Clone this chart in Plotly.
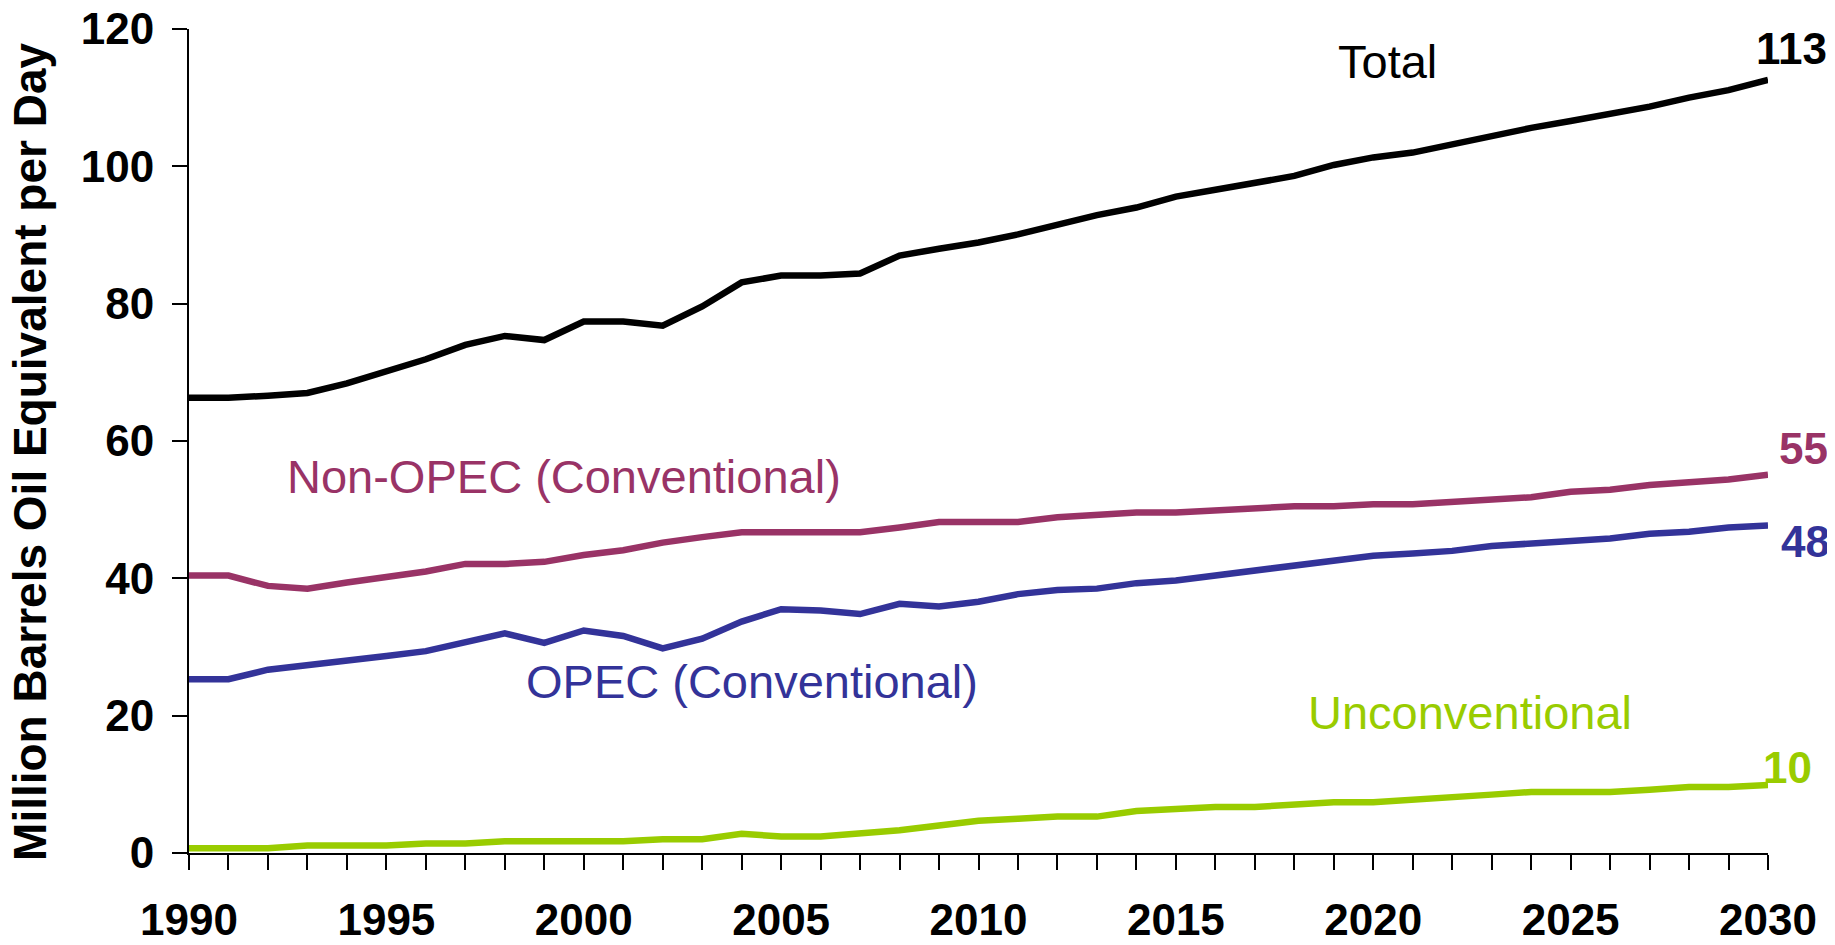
import plotly.graph_objects as go

years = list(range(1990, 2031))

total = [66.3, 66.3, 66.6, 67.0, 68.4, 70.2, 71.9, 74.0, 75.3, 74.7,
         77.4, 77.4, 76.8, 79.6, 83.1, 84.1, 84.1, 84.4, 87.0, 88.0,
         88.9, 90.1, 91.5, 92.9, 94.0, 95.6, 96.6, 97.6, 98.6, 100.2,
         101.3, 102.0, 103.2, 104.5, 105.6, 106.6, 107.6, 108.7, 110.0, 111.1,
         112.6]

non_opec = [40.4, 40.4, 38.9, 38.5, 39.4, 40.2, 41.0, 42.1, 42.1, 42.4,
            43.4, 44.1, 45.2, 46.0, 46.7, 46.7, 46.7, 46.7, 47.4, 48.2,
            48.2, 48.2, 48.9, 49.2, 49.6, 49.6, 49.9, 50.2, 50.5, 50.5,
            50.8, 50.8, 51.1, 51.4, 51.8, 52.6, 52.9, 53.6, 54.0, 54.4,
            55.1]

opec = [25.3, 25.3, 26.7, 27.3, 28.0, 28.7, 29.4, 30.6, 32.0, 30.6,
        32.4, 31.6, 29.8, 31.2, 33.7, 35.5, 35.3, 34.8, 36.3, 35.9,
        36.6, 37.7, 38.3, 38.5, 39.3, 39.7, 40.4, 41.1, 41.8, 42.6,
        43.3, 43.6, 44.0, 44.7, 45.1, 45.5, 45.8, 46.5, 46.8, 47.4,
        47.7]

unconventional = [0.7, 0.7, 0.7, 1.1, 1.1, 1.1, 1.4, 1.4, 1.7, 1.7,
                  1.7, 1.7, 2.0, 2.0, 2.8, 2.4, 2.4, 2.8, 3.3, 4.0,
                  4.7, 5.0, 5.3, 5.3, 6.1, 6.4, 6.7, 6.7, 7.0, 7.4,
                  7.4, 7.7, 8.1, 8.5, 8.9, 8.9, 8.9, 9.2, 9.6, 9.6,
                  9.9]

series_names = ["Total", "Non-OPEC (Conventional)", "OPEC (Conventional)", "Unconventional"]
series_colors = ["#000000", "#993366", "#333399", "#99CC00"]
end_labels = ["113", "55", "48", "10"]

x_tickvals = [1990, 1995, 2000, 2005, 2010, 2015, 2020, 2025, 2030]
y_tickvals = [0, 20, 40, 60, 80, 100, 120]
y_title = "Million Barrels Oil Equivalent per Day"

FONT = "Arial, 'Liberation Sans', sans-serif"

fig = go.Figure()
for name, vals, col in zip(series_names, [total, non_opec, opec, unconventional], series_colors):
    fig.add_trace(go.Scatter(x=years, y=vals, mode="lines", name=name,
                             line=dict(color=col, width=6.5), showlegend=False))

# series name labels (position in data coordinates)
name_pos = [(2020.35, 115.2), (1999.5, 54.9), (2004.26, 25.0), (2022.45, 20.5)]
for name, col, (px, py) in zip(series_names, series_colors, name_pos):
    fig.add_annotation(x=px, y=py, xref="x", yref="y", text=name, showarrow=False,
                       font=dict(family=FONT, size=47, color=col),
                       xanchor="center", yanchor="middle")

# end-value labels, placed next to the last point of each line
end_pos = [(23, 117.1), (35, 58.9), (37, 45.3), (19, 12.4)]
for lab, col, (dx, py) in zip(end_labels, series_colors, end_pos):
    fig.add_annotation(x=years[-1], y=py, xref="x", yref="y", xshift=dx,
                       text="<b>%s</b>" % lab, showarrow=False,
                       font=dict(family=FONT, size=44, color=col),
                       xanchor="center", yanchor="middle")

# y axis title
fig.add_annotation(x=-0.1004, y=0.4873, xref="paper", yref="paper", text="<b>%s</b>" % y_title,
                   textangle=-90, showarrow=False, xanchor="center", yanchor="middle",
                   font=dict(family=FONT, size=46, color="#000000"))

# page body has an 8px default margin: shrink the figure so it fits the 1835x945 window
fig.update_layout(
    width=1827, height=937,
    margin=dict(l=181, r=67, t=20.5, b=91.5, autoexpand=False),
    paper_bgcolor="white", plot_bgcolor="white",
    font=dict(family=FONT, color="#000000"),
)
fig.update_xaxes(range=[1990, 2030], tickvals=x_tickvals, ticks="outside", ticklen=15, tickwidth=2,
                 tickcolor="black", showline=True, linecolor="black", linewidth=2,
                 showgrid=False, zeroline=False, ticklabeloverflow="allow",
                 tickfont=dict(family=FONT, size=44, color="black", weight="bold"),
                 ticklabelstandoff=12,
                 minor=dict(dtick=1, tick0=1990, ticks="outside", ticklen=15, tickwidth=2, tickcolor="black"))
fig.update_yaxes(range=[0, 120], tickvals=y_tickvals, ticks="outside", ticklen=15, tickwidth=2,
                 tickcolor="black", showline=True, linecolor="black", linewidth=2,
                 showgrid=False, zeroline=False, ticklabeloverflow="allow",
                 tickfont=dict(family=FONT, size=44, color="black", weight="bold"),
                 ticklabelstandoff=9)

fig.write_html("out.html")
